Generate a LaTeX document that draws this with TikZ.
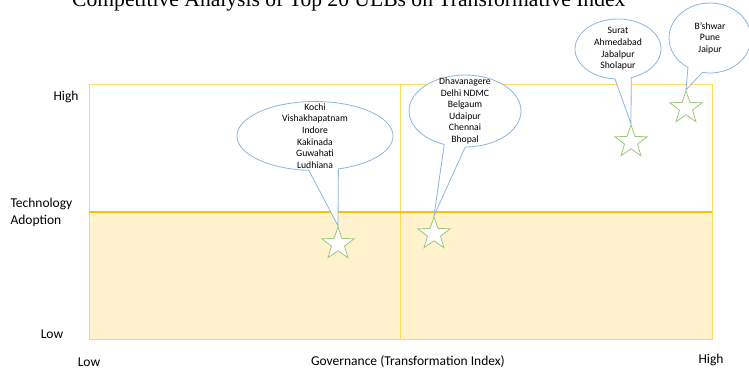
\documentclass[tikz,border=0pt]{standalone}
\usepackage{fontspec}
\setmainfont{Carlito}
\newfontfamily\titlefont{Liberation Serif}
\usetikzlibrary{shapes.geometric,shapes.callouts}
\definecolor{gridline}{HTML}{FFD966}
\definecolor{midline}{HTML}{FFC000}
\definecolor{lowfill}{HTML}{FFF2CC}
\definecolor{bubbleline}{HTML}{8AB6E2}
\definecolor{starline}{HTML}{9CC87C}
\begin{document}
\begin{tikzpicture}[x=1pt,y=-1pt,
  axislabel/.style={font=\fontsize{13.5}{17}\selectfont},
  citystar/.style={star,star points=5,star point ratio=2.5,draw=starline,fill=white,line width=0.8pt,inner sep=0pt,minimum size=34pt},
  bubble/.style={ellipse callout,draw=bubbleline,fill=white,line width=0.8pt,inner sep=0pt,callout pointer arc=22},
  citylist/.style={align=center,font=\fontsize{9.7}{11.6}\selectfont}]
\useasboundingbox (0,0) rectangle (749,370);
%\draw[step=50,gray,very thin] (0,0) grid (749,370); %background grid
\node[anchor=base west,inner sep=0pt,font=\titlefont\fontsize{21.6}{26}\selectfont] (title) at (72,6) {Competitive Analysis of Top 20 ULBs on Transformative Index};
% quadrants
\fill[lowfill] (89,212) rectangle (712,339);
\draw[gridline,line width=0.9pt] (89,84) rectangle (712,339);
\draw[gridline,line width=0.9pt] (400,84) -- (400,339);
\draw[midline,line width=1.4pt] (89,212) -- (712,212);
% axis labels
\node[axislabel] (yhigh) at (66,97) {High};
\node[axislabel,align=left,anchor=west] (ytitle) at (7,212) {Technology\\Adoption};
\node[axislabel] (ylow) at (52,334) {Low};
\node[axislabel] (xlow) at (89,362) {Low};
\node[axislabel] (xtitle) at (408,361) {Governance (Transformation Index)};
\node[axislabel] (xhigh) at (711,360) {High};
% stars
\node[citystar] (s1) at (338,244) {};
\node[citystar] (s2) at (434,234) {};
\node[citystar] (s3) at (631,142) {};
\node[citystar] (s4) at (686,108) {};
% callouts
\node[bubble,minimum width=156pt,minimum height=69pt,callout absolute pointer={(s1.north)},
  label={[citylist]center:{Kochi\\Vishakhapatnam\\Indore\\Kakinada\\Guwahati\\Ludhiana}}] (b1) at (315,136) {};
\node[bubble,minimum width=112pt,minimum height=72pt,callout absolute pointer={(s2.north)},
  label={[citylist]center:{Dhavanagere\\Delhi NDMC\\Belgaum\\Udaipur\\Chennai\\Bhopal}}] (b2) at (465,111) {};
\node[bubble,minimum width=86pt,minimum height=60pt,callout absolute pointer={(s3.north)},
  label={[citylist]center:{Surat\\Ahmedabad\\Jabalpur\\Sholapur}}] (b3) at (618,49) {};
\node[bubble,minimum width=82pt,minimum height=70pt,callout absolute pointer={(s4.north)},
  label={[citylist]center:{B'shwar\\Pune\\Jaipur}}] (b4) at (710,38) {};
\end{tikzpicture}
\end{document}
